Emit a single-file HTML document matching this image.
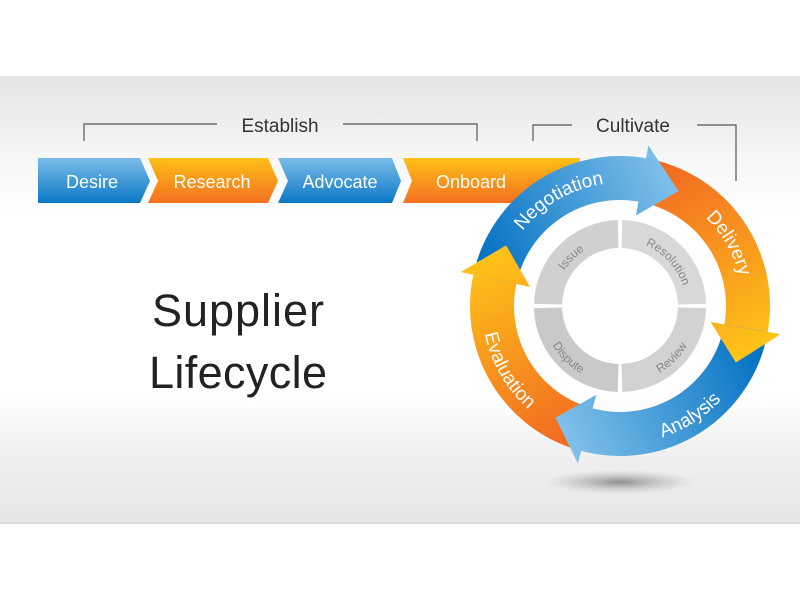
<!DOCTYPE html>
<html><head><meta charset="utf-8"><style>
html,body{margin:0;padding:0;background:#fff;}
body{width:800px;height:600px;overflow:hidden;position:relative;font-family:"Liberation Sans",sans-serif;}
#panel{position:absolute;left:0;top:76px;width:800px;height:446px;background:linear-gradient(#e4e4e4 0px,#f6f6f6 80px,#fff 140px,#fff 320px,#f1f1f1 370px,#e6e6e6 446px);border-bottom:2px solid #d8d8d8;}
svg{position:absolute;left:0;top:0;}
</style></head><body>
<div id="panel"></div>
<svg id="s" width="800" height="600" viewBox="0 0 800 600">
<defs id="defs">
<linearGradient id="gb" x1="0" y1="1" x2="0" y2="0"><stop offset="0" stop-color="#0a78c6"/><stop offset="1" stop-color="#7bbde9"/></linearGradient>
<linearGradient id="go" x1="0" y1="1" x2="0" y2="0"><stop offset="0" stop-color="#f37021"/><stop offset="1" stop-color="#fec016"/></linearGradient>
<radialGradient id="sh" cx="0.5" cy="0.5" r="0.5"><stop offset="0" stop-color="#777" stop-opacity="0.8"/><stop offset="1" stop-color="#aaa" stop-opacity="0"/></radialGradient>
</defs>
<g stroke="#555" stroke-width="1.2" fill="none">
<polyline points="84,141 84,124 217,124"/><polyline points="343,124 477,124 477,141"/>
<polyline points="533,141 533,125 572,125"/><polyline points="697,125 736,125 736,181"/>
</g>
<g font-size="19" fill="#333" text-anchor="middle">
<text x="280" y="132">Establish</text><text x="633" y="132">Cultivate</text>
</g>
<g>
<polygon points="38,158 140,158 150,181 140,203 38,203" fill="url(#gb)"/>
<polygon points="148,158 268,158 278,181 268,203 148,203 158,181" fill="url(#go)"/>
<polygon points="278,158 392,158 401,181 392,203 278,203 288,181" fill="url(#gb)"/>
<polygon points="403,158 580,158 580,203 403,203 412,181" fill="url(#go)"/>
</g>
<g font-size="18" fill="#fff" text-anchor="middle">
<text x="92" y="188">Desire</text><text x="212" y="188">Research</text><text x="340" y="188">Advocate</text><text x="471" y="188">Onboard</text>
</g>
<g font-size="45" fill="#222" text-anchor="middle">
<text x="238" y="326" textLength="172">Supplier</text><text x="238" y="388" textLength="178">Lifecycle</text>
</g>
<ellipse cx="620" cy="482" rx="75" ry="12" fill="url(#sh)"/>
<g id="ring"></g>
</svg>
<script>
var cx=620,cy=306,ns="http://www.w3.org/2000/svg";
function P(r,a){a=a*Math.PI/180;return [cx+r*Math.sin(a),cy-r*Math.cos(a)];}
function f(p){return p[0].toFixed(1)+","+p[1].toFixed(1);}
function band(r1,r2,a0,a1){var l=(a1-a0)>180?1:0;return "M"+f(P(r2,a0))+" A"+r2+","+r2+" 0 "+l+" 1 "+f(P(r2,a1))+" L"+f(P(r1,a1))+" A"+r1+","+r1+" 0 "+l+" 0 "+f(P(r1,a0))+"Z";}
function head(a0,a1){return "M"+f(P(163,a0))+" L"+f(P(129,a1))+" L"+f(P(92,a0))+"Z";}
var g=document.getElementById("ring"),defs=document.getElementById("defs");
function add(tag,at,par){var e=document.createElementNS(ns,tag);for(var k in at)e.setAttribute(k,at[k]);(par||g).appendChild(e);return e;}
function grad(id,p0,p1,c0,c1){var lg=add("linearGradient",{id:id,gradientUnits:"userSpaceOnUse",x1:p0[0],y1:p0[1],x2:p1[0],y2:p1[1]},defs);add("stop",{offset:0,"stop-color":c0},lg);add("stop",{offset:1,"stop-color":c1},lg);}
var gc=["#d8d8d8","#d2d2d2","#c9c9c9","#d0d0d0"];
for(var i=0;i<4;i++){add("path",{d:band(58,86,i*90+1.5,i*90+88.5),fill:gc[i]});}
var B0="#0673c4",B1="#7fc0ea",O0="#f26b22",O1="#fec418";
var segs=[[282,370,B0,B1,27],[10,100,O0,O1,116],[100,195,B0,B1,210],[195,282,O0,O1,298]];
segs.forEach(function(s,i){grad("sg"+i,P(128,s[0]),P(128,s[4]),s[2],s[3]);
 add("path",{d:band(106,150,s[0],s[1]),fill:"url(#sg"+i+")"});});
segs.forEach(function(s,i){add("path",{d:head(s[1],s[4]),fill:"url(#sg"+i+")"});});
function arcPath(id,r,a0,a1,cw){var p0=P(r,a0),p1=P(r,a1);add("path",{id:id,d:"M"+f(p0)+" A"+r+","+r+" 0 0 "+(cw?1:0)+" "+f(p1),fill:"none"});}
arcPath("tN",123,270,30,1);arcPath("tD",123,10,110,1);
arcPath("tA",138,200,95,0);arcPath("tE",138,290,190,0);
arcPath("gI",66,280,350,1);arcPath("gR",66,5,90,1);arcPath("gV",78,175,95,0);arcPath("gP",78,265,185,0);
function tp(id,txt,off,size,col){var t=add("text",{"font-size":size,fill:col,"text-anchor":"middle"});var p=document.createElementNS(ns,"textPath");p.setAttribute("href","#"+id);p.setAttribute("startOffset",off);p.textContent=txt;t.appendChild(p);}
tp("tN","Negotiation","50%",19,"#fff");tp("tD","Delivery","50%",19,"#fff");
tp("tA","Analysis","50%",19,"#fff");tp("tE","Evaluation","50%",19,"#fff");
tp("gI","Issue","50%",12,"#888");tp("gR","Resolution","50%",12,"#888");
tp("gV","Review","50%",12,"#888");tp("gP","Dispute","50%",12,"#888");
</script>
</body></html>
